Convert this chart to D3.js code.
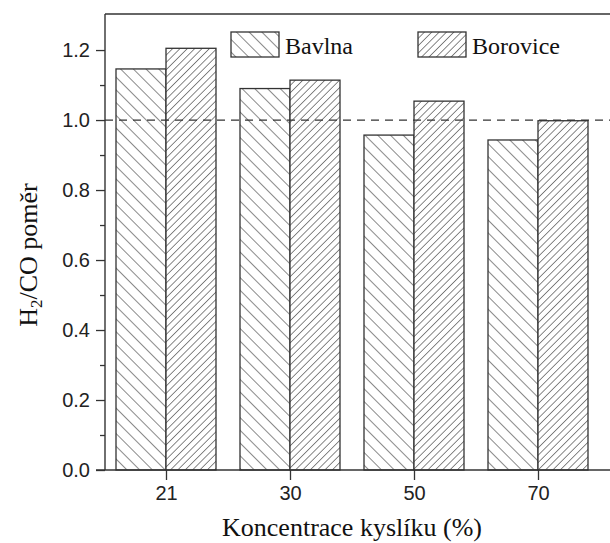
<!DOCTYPE html>
<html><head><meta charset="utf-8">
<script src="https://cdn.jsdelivr.net/npm/d3@7"></script>
<style>body{margin:0;background:#fff}svg{display:block}</style>
</head><body>
<svg id="c" width="610" height="543"></svg>
<script>
const categories = ["21", "30", "50", "70"];
const seriesNames = ["Bavlna", "Borovice"];
const bavlna = [1.146, 1.090, 0.957, 0.943];
const borovice = [1.205, 1.114, 1.054, 0.998];
const yTicks = [0.0, 0.2, 0.4, 0.6, 0.8, 1.0, 1.2];
const yMinorTicks = [0.1, 0.3, 0.5, 0.7, 0.9, 1.1];
const refLine = 1.0;

const svg = d3.select("#c");
const ink = "#333";
const serif = "'Liberation Serif', 'Times New Roman', serif";
const sans = "'Liberation Sans', Arial, sans-serif";
const L = 105, R = 610, T = 14, B = 470;

const y = d3.scaleLinear().domain([0, 1.303]).range([B, T]);
const x = d3.scalePoint().domain(categories).range([166, 538]);
const xs = d3.scaleBand().domain(seriesNames).range([-50, 50]).padding(0);

// patterns
const defs = svg.append("defs");
function hatch(id, spacing, dir) {
  const p = defs.append("pattern").attr("id", id).attr("patternUnits", "userSpaceOnUse")
    .attr("width", spacing).attr("height", spacing)
    .attr("patternTransform", `rotate(${dir})`);
  p.append("rect").attr("width", spacing).attr("height", spacing).attr("fill", "#fff");
  p.append("line").attr("x1", 0).attr("y1", 0).attr("x2", 0).attr("y2", spacing)
    .attr("stroke", "#3a3a3a").attr("stroke-width", 1.2);
}
hatch("pBav", 9, -45);
hatch("pBor", 5.2, 45);
const fills = {Bavlna: "url(#pBav)", Borovice: "url(#pBor)"};

const data = categories.map((c, i) => ({cat: c, vals: [
  {s: "Bavlna", v: bavlna[i]}, {s: "Borovice", v: borovice[i]}]}));

// bars
const g = svg.append("g");
data.forEach(d => {
  d.vals.forEach(e => {
    g.append("rect")
      .attr("x", x(d.cat) + xs(e.s))
      .attr("y", y(e.v))
      .attr("width", xs.bandwidth())
      .attr("height", y(0) - y(e.v))
      .attr("fill", fills[e.s])
      .attr("stroke", ink).attr("stroke-width", 1.3);
  });
});

// reference dashed line
svg.append("line").attr("x1", L).attr("x2", R).attr("y1", y(refLine)).attr("y2", y(refLine))
  .attr("stroke", ink).attr("stroke-width", 1.3).attr("stroke-dasharray", "8,6");

// axes
const yAxis = d3.axisLeft(y).tickValues(yTicks).tickFormat(d3.format(".1f")).tickSize(9).tickPadding(6).tickSizeOuter(0);
const ya = svg.append("g").attr("transform", `translate(${L},0)`).call(yAxis);
ya.select(".domain").remove();
ya.selectAll(".tick line").attr("stroke", ink).attr("stroke-width", 1.3);
ya.selectAll(".tick text").style("font-family", sans).style("font-size", "20px").attr("fill", "#222");
const yMinor = d3.axisLeft(y).tickValues(yMinorTicks).tickFormat("").tickSize(5).tickSizeOuter(0);
const ym = svg.append("g").attr("transform", `translate(${L},0)`).call(yMinor);
ym.select(".domain").remove();
ym.selectAll(".tick line").attr("stroke", ink).attr("stroke-width", 1.3);

const xAxis = d3.axisBottom(x).tickSize(10).tickPadding(6).tickSizeOuter(0);
const xa = svg.append("g").attr("transform", `translate(0,${B})`).call(xAxis);
xa.select(".domain").remove();
xa.selectAll(".tick line").attr("stroke", ink).attr("stroke-width", 1.3);
xa.selectAll(".tick text").style("font-family", sans).style("font-size", "20px").attr("fill", "#222");

// frame lines
svg.append("line").attr("x1", L).attr("x2", L).attr("y1", T).attr("y2", B).attr("stroke", ink).attr("stroke-width", 1.4);
svg.append("line").attr("x1", L).attr("x2", R).attr("y1", T).attr("y2", T).attr("stroke", ink).attr("stroke-width", 1.4);
svg.append("line").attr("x1", L - 9).attr("x2", R).attr("y1", B).attr("y2", B).attr("stroke", ink).attr("stroke-width", 1.4);

// legend
const legendPos = [{s: "Bavlna", x: 231}, {s: "Borovice", x: 418}];
legendPos.forEach(l => {
  svg.append("rect").attr("x", l.x).attr("y", 32).attr("width", 48).attr("height", 25)
    .attr("fill", fills[l.s]).attr("stroke", ink).attr("stroke-width", 1.3);
  svg.append("text").attr("x", l.x + 54).attr("y", 54).text(l.s)
    .style("font-family", serif).style("font-size", "24px").attr("fill", "#111");
});

// axis titles
svg.append("text").attr("x", 352).attr("y", 536).attr("text-anchor", "middle")
  .style("font-family", serif).style("font-size", "26px").attr("fill", "#111")
  .text("Koncentrace kyslíku (%)");
const yt = svg.append("text").attr("transform", "translate(37,255) rotate(-90)").attr("text-anchor", "middle")
  .style("font-family", serif).style("font-size", "26px").attr("fill", "#111");
yt.append("tspan").text("H");
yt.append("tspan").text("2").style("font-size", "17px").attr("dy", 5);
yt.append("tspan").text("/CO poměr").attr("dy", -5);
</script>
</body></html>
